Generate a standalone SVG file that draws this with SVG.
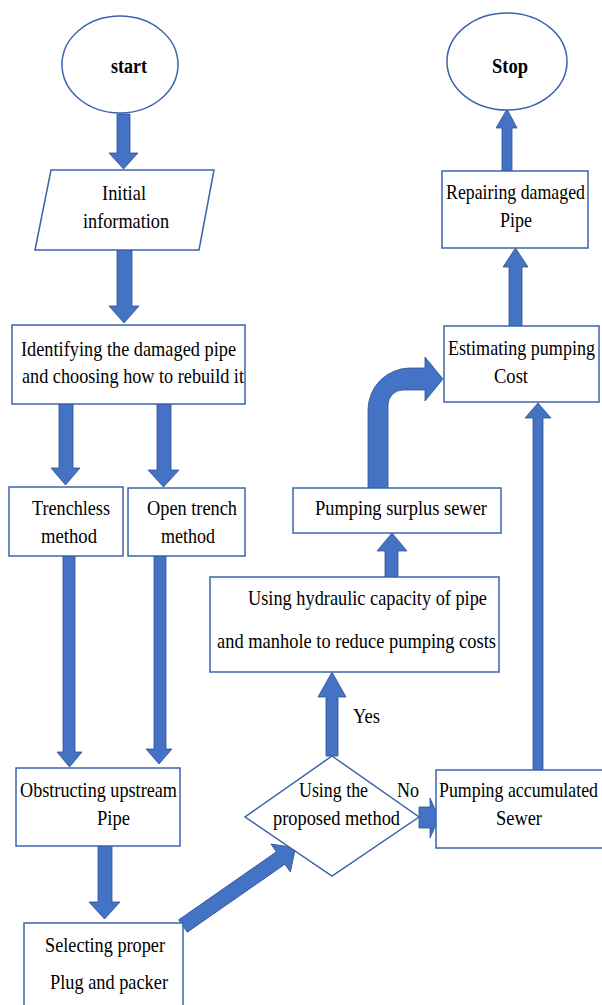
<svg xmlns="http://www.w3.org/2000/svg" width="602" height="1005" viewBox="0 0 602 1005">
<style>
.box{fill:#fff;stroke:#3B64AD;stroke-width:1.5}
.arr{fill:#4472C4;stroke:#2F528F;stroke-width:0.8}
.t{font-family:"Liberation Serif","Times New Roman",serif;font-size:18.3px;fill:#000}
.s{font-size:17.6px}
.b{font-weight:bold}
</style>
<rect width="602" height="1005" fill="#fff"/>
<g id="connectors">
<polygon class="arr" points="117,114 130,114 130,153 138,153 123.5,169 109,153 117,153"/>
<polygon class="arr" points="117,250 132,250 132,306 139,306 124,323 109,306 117,306"/>
<polygon class="arr" points="59,404 73,404 73,468 80,468 65.5,485 51,468 59,468"/>
<polygon class="arr" points="157,404 171,404 171,470 179,470 163.5,487 148,470 157,470"/>
<polygon class="arr" points="63,556 75,556 75,752 82,752 69.5,767 57,752 63,752"/>
<polygon class="arr" points="154,556 166,556 166,749 172,749 159,764 146,749 154,749"/>
<polygon class="arr" points="98,846 112,846 112,902 120,902 104.5,919 89,902 98,902"/>
<polygon class="arr" transform="translate(183,926) rotate(-34.85)" points="0,-7.5 119,-7.5 119,-17 137,0 119,17 119,7.5 0,7.5"/>
<polygon class="arr" points="419,807 430,807 430,798 439,818 430,838 430,828 419,828"/>
<polygon class="arr" points="326,756 338,756 338,697 346,697 332,672 318,697 326,697"/>
<polygon class="arr" points="385,577 398,577 398,551 407,551 392,533 377,551 385,551"/>
<path class="arr" d="M368,488 L368,410 A42,42 0 0 1 410,368 L425,368 L425,357 L443,379 L425,401 L425,390 L403,390 A15,15 0 0 0 388,405 L388,488 Z"/>
<polygon class="arr" points="533,770 543,770 543,418 551,418 538,403 525,418 533,418"/>
<polygon class="arr" points="509,326 522,326 522,267 528,267 515.5,248 503,267 509,267"/>
<polygon class="arr" points="502,171 512,171 512,128 517,128 507,109 496,128 502,128"/>
</g>
<g id="start">
<ellipse class="box" cx="120" cy="64.5" rx="58" ry="48.5"/>
<text class="t b" transform="translate(111 73) scale(1 1.18)" textLength="36" lengthAdjust="spacingAndGlyphs">start</text>
</g>
<g id="stop">
<ellipse class="box" cx="507" cy="61.5" rx="60" ry="48.5"/>
<text class="t b" transform="translate(492 73) scale(1 1.18)" textLength="36" lengthAdjust="spacingAndGlyphs">Stop</text>
</g>
<g id="initial">
<polygon class="box" points="51,170 214,170 199,250 35,250"/>
<text class="t" transform="translate(102 200) scale(1 1.18)" textLength="44" lengthAdjust="spacingAndGlyphs">Initial</text>
<text class="t" transform="translate(83 228) scale(1 1.18)" textLength="86" lengthAdjust="spacingAndGlyphs">information</text>
</g>
<g id="identify">
<rect class="box" x="12" y="325" width="233" height="79"/>
<text class="t" transform="translate(21 356) scale(1 1.18)" textLength="215" lengthAdjust="spacingAndGlyphs">Identifying the damaged pipe</text>
<text class="t s" transform="translate(22 383) scale(1 1.18)" textLength="222" lengthAdjust="spacingAndGlyphs">and choosing how to rebuild it</text>
</g>
<g id="trenchless">
<rect class="box" x="9" y="487" width="114" height="69"/>
<text class="t" transform="translate(32 515) scale(1 1.18)" textLength="78" lengthAdjust="spacingAndGlyphs">Trenchless</text>
<text class="t" transform="translate(41 543) scale(1 1.18)" textLength="56" lengthAdjust="spacingAndGlyphs">method</text>
</g>
<g id="opentrench">
<rect class="box" x="128" y="488" width="117" height="68"/>
<text class="t" transform="translate(147 515) scale(1 1.18)" textLength="90" lengthAdjust="spacingAndGlyphs">Open trench</text>
<text class="t" transform="translate(161 543) scale(1 1.18)" textLength="54" lengthAdjust="spacingAndGlyphs">method</text>
</g>
<g id="obstructing">
<rect class="box" x="16" y="768" width="164" height="78"/>
<text class="t" transform="translate(20 797) scale(1 1.18)" textLength="157" lengthAdjust="spacingAndGlyphs">Obstructing upstream</text>
<text class="t" transform="translate(97 825) scale(1 1.18)" textLength="33" lengthAdjust="spacingAndGlyphs">Pipe</text>
</g>
<g id="selecting">
<rect class="box" x="24" y="923" width="159" height="90"/>
<text class="t" transform="translate(45 952) scale(1 1.18)" textLength="120" lengthAdjust="spacingAndGlyphs">Selecting proper</text>
<text class="t" transform="translate(50 989) scale(1 1.18)" textLength="118" lengthAdjust="spacingAndGlyphs">Plug and packer</text>
</g>
<g id="decision">
<polygon class="box" points="332,756 419,817 332,876 245,817"/>
<text class="t" transform="translate(299 797) scale(1 1.18)" textLength="69" lengthAdjust="spacingAndGlyphs">Using the</text>
<text class="t" transform="translate(273 825) scale(1 1.18)" textLength="127" lengthAdjust="spacingAndGlyphs">proposed method</text>
</g>
<g id="labels">
<text class="t" transform="translate(397 797) scale(1 1.18)" textLength="22" lengthAdjust="spacingAndGlyphs">No</text>
<text class="t" transform="translate(353 723) scale(1 1.18)" textLength="27" lengthAdjust="spacingAndGlyphs">Yes</text>
</g>
<g id="hydraulic">
<rect class="box" x="210" y="577" width="289" height="95"/>
<text class="t" transform="translate(248 605) scale(1 1.18)" textLength="239" lengthAdjust="spacingAndGlyphs">Using hydraulic capacity of pipe</text>
<text class="t" transform="translate(217 648) scale(1 1.18)" textLength="279" lengthAdjust="spacingAndGlyphs">and manhole to reduce pumping costs</text>
</g>
<g id="surplus">
<rect class="box" x="293" y="488" width="208" height="45"/>
<text class="t" transform="translate(315 515) scale(1 1.18)" textLength="172" lengthAdjust="spacingAndGlyphs">Pumping surplus sewer</text>
</g>
<g id="accumulated">
<rect class="box" x="436" y="770" width="172" height="78"/>
<text class="t s" transform="translate(439 797) scale(1 1.18)" textLength="159" lengthAdjust="spacingAndGlyphs">Pumping accumulated</text>
<text class="t" transform="translate(496 825) scale(1 1.18)" textLength="46" lengthAdjust="spacingAndGlyphs">Sewer</text>
</g>
<g id="estimating">
<rect class="box" x="444" y="326" width="155" height="76"/>
<text class="t s" transform="translate(448 355) scale(1 1.18)" textLength="147" lengthAdjust="spacingAndGlyphs">Estimating pumping</text>
<text class="t" transform="translate(494 383) scale(1 1.18)" textLength="34" lengthAdjust="spacingAndGlyphs">Cost</text>
</g>
<g id="repairing">
<rect class="box" x="442" y="171" width="146" height="77"/>
<text class="t s" transform="translate(446 199) scale(1 1.18)" textLength="139" lengthAdjust="spacingAndGlyphs">Repairing damaged</text>
<text class="t" transform="translate(500 227) scale(1 1.18)" textLength="32" lengthAdjust="spacingAndGlyphs">Pipe</text>
</g>
</svg>
